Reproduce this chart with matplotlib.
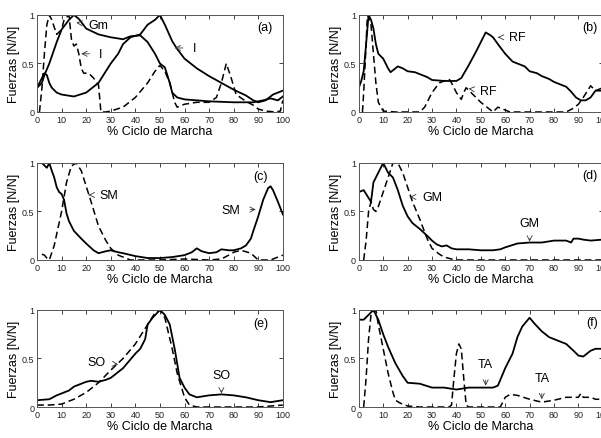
import matplotlib
matplotlib.use("Agg")
import matplotlib.pyplot as plt
from matplotlib import font_manager

names = {f.name for f in font_manager.fontManager.ttflist}
narrow = 'Liberation Sans Narrow' if 'Liberation Sans Narrow' in names else 'Liberation Sans'
plt.rcParams['font.family'] = ['Liberation Sans', 'DejaVu Sans']

# ---------------- data ----------------
xticks = [0, 10, 20, 30, 40, 50, 60, 70, 80, 90, 100]
yticks = [0, 0.5, 1]
ytick_labels = ['0', '0.5', '1']

# (a)
a_gm_x = [0, 2, 3, 5, 8, 10, 13, 15, 17, 20, 25, 30, 35, 38, 42, 45, 48, 50, 52, 54, 55, 57, 60, 70, 80, 88, 92, 95, 98, 100]
a_gm_y = [0.25, 0.3, 0.38, 0.5, 0.72, 0.85, 0.95, 1.0, 0.96, 0.86, 0.8, 0.77, 0.75, 0.78, 0.79, 0.72, 0.6, 0.5, 0.46, 0.3, 0.2, 0.15, 0.13, 0.11, 0.1, 0.1, 0.12, 0.14, 0.12, 0.16]
a_i_x = [0, 1, 3, 4, 5, 6, 8, 10, 15, 20, 25, 28, 30, 33, 35, 38, 42, 45, 48, 50, 52, 55, 57, 60, 65, 70, 75, 80, 85, 88, 90, 93, 96, 100]
a_i_y = [0.25, 0.3, 0.4, 0.38, 0.3, 0.25, 0.2, 0.18, 0.16, 0.2, 0.3, 0.42, 0.5, 0.6, 0.7, 0.77, 0.8, 0.9, 0.95, 1.0, 0.9, 0.73, 0.65, 0.55, 0.45, 0.37, 0.3, 0.23, 0.17, 0.12, 0.1, 0.12, 0.18, 0.22]
a_d_x = [1, 2, 3, 4, 5, 6, 8, 10, 11, 13, 14, 15, 16, 17, 18, 19, 21, 23, 25, 26, 28, 30, 35, 40, 45, 48, 50, 52, 54, 55, 56, 57, 58, 60, 65, 70, 73, 75, 77, 79, 81, 85, 88, 90, 93, 97, 99, 100]
a_d_y = [0.0, 0.25, 0.6, 0.9, 1.0, 0.95, 0.8, 0.85, 0.95, 1.0, 0.75, 0.68, 0.7, 0.6, 0.45, 0.4, 0.4, 0.35, 0.28, 0.0, 0.0, 0.01, 0.05, 0.15, 0.3, 0.42, 0.48, 0.42, 0.3, 0.2, 0.1, 0.05, 0.06, 0.08, 0.1, 0.1, 0.15, 0.3, 0.5, 0.35, 0.18, 0.11, 0.07, 0.03, 0.01, 0.0, 0.01, 0.12]

# (b)
b_s_x = [0, 1, 2, 3, 4, 5, 6, 7, 8, 10, 12, 13, 15, 16, 18, 20, 23, 25, 28, 30, 35, 38, 40, 42, 45, 48, 50, 52, 54, 55, 57, 60, 63, 65, 68, 70, 73, 75, 78, 80, 83, 85, 87, 89, 91, 93, 95, 97, 100]
b_s_y = [0.25, 0.32, 0.42, 0.7, 1.0, 0.95, 0.86, 0.7, 0.6, 0.55, 0.45, 0.41, 0.45, 0.47, 0.45, 0.42, 0.41, 0.39, 0.36, 0.33, 0.32, 0.32, 0.32, 0.35, 0.48, 0.62, 0.72, 0.82, 0.79, 0.77, 0.7, 0.6, 0.52, 0.5, 0.47, 0.42, 0.4, 0.37, 0.34, 0.31, 0.28, 0.26, 0.21, 0.15, 0.12, 0.12, 0.15, 0.22, 0.22]
b_d_x = [1.5, 2, 3, 3.5, 4, 5, 6, 7, 8, 10, 15, 20, 25, 27, 30, 33, 35, 37, 38, 40, 42, 43, 44, 46, 50, 55, 57, 60, 62, 70, 80, 85, 88, 90, 92, 95, 97, 100]
b_d_y = [0.0, 0.2, 0.7, 1.0, 0.98, 0.9, 0.6, 0.3, 0.1, 0.01, 0.0, 0.0, 0.0, 0.05, 0.2, 0.3, 0.32, 0.34, 0.3, 0.2, 0.13, 0.2, 0.25, 0.2, 0.1, 0.0, 0.05, 0.02, 0.0, 0.0, 0.0, 0.0, 0.04, 0.08, 0.15, 0.27, 0.22, 0.25]

# (c)
c_s_x = [0, 2, 4, 5, 6, 7, 8, 9, 10, 11, 12, 13, 15, 18, 20, 23, 25, 28, 30, 33, 35, 40, 45, 50, 55, 60, 63, 65, 67, 70, 73, 75, 78, 80, 83, 85, 87, 88, 90, 92, 94, 95, 96, 98, 100]
c_s_y = [1.0, 1.0, 0.95, 1.0, 0.92, 0.85, 0.75, 0.7, 0.68, 0.62, 0.48, 0.4, 0.3, 0.22, 0.17, 0.1, 0.07, 0.09, 0.1, 0.08, 0.07, 0.04, 0.02, 0.02, 0.03, 0.05, 0.08, 0.12, 0.09, 0.07, 0.08, 0.11, 0.1, 0.1, 0.12, 0.15, 0.22, 0.3, 0.45, 0.62, 0.74, 0.76, 0.72, 0.6, 0.47]
c_d_x = [2, 3, 4, 5, 7, 10, 12, 14, 16, 18, 20, 22, 25, 28, 30, 33, 35, 38, 40, 50, 60, 70, 75, 78, 80, 83, 87, 90, 95, 100]
c_d_y = [0.06, 0.05, 0.02, 0.0, 0.15, 0.5, 0.8, 0.97, 1.0, 0.92, 0.76, 0.6, 0.35, 0.2, 0.12, 0.05, 0.03, 0.0, 0.0, 0.0, 0.01, 0.0, 0.01, 0.05, 0.08, 0.1, 0.07, 0.0, 0.0, 0.05]

# (d)
d_s_x = [0, 2, 3, 5, 6, 8, 10, 12, 14, 16, 18, 20, 22, 25, 28, 30, 32, 34, 36, 38, 40, 45, 50, 55, 58, 60, 65, 70, 75, 80, 85, 87, 88, 90, 92, 95, 100]
d_s_y = [0.7, 0.72, 0.68, 0.6, 0.8, 0.9, 1.0, 0.9, 0.85, 0.72, 0.56, 0.45, 0.38, 0.32, 0.25, 0.2, 0.16, 0.14, 0.15, 0.12, 0.11, 0.11, 0.1, 0.1, 0.11, 0.13, 0.17, 0.18, 0.18, 0.2, 0.2, 0.18, 0.22, 0.22, 0.21, 0.2, 0.21]
d_d_x = [2, 3, 4, 5, 6, 7, 8, 10, 12, 14, 16, 18, 20, 22, 25, 28, 30, 33, 35, 38, 40, 50, 60, 70, 80, 90, 100]
d_d_y = [0.0, 0.2, 0.5, 0.6, 0.52, 0.5, 0.55, 0.7, 0.85, 1.0, 1.0, 0.9, 0.75, 0.6, 0.42, 0.22, 0.12, 0.06, 0.03, 0.01, 0.0, 0.0, 0.0, 0.0, 0.0, 0.0, 0.0]

# (e)
e_s_x = [0, 5, 8, 10, 13, 15, 18, 20, 22, 25, 28, 30, 35, 40, 42, 44, 45, 47, 50, 52, 54, 56, 58, 60, 62, 65, 70, 75, 80, 85, 90, 95, 100]
e_s_y = [0.07, 0.08, 0.12, 0.14, 0.17, 0.21, 0.24, 0.26, 0.27, 0.26, 0.28, 0.3, 0.4, 0.55, 0.6, 0.7, 0.85, 0.92, 1.0, 0.95, 0.85, 0.6, 0.3, 0.2, 0.13, 0.1, 0.12, 0.13, 0.12, 0.1, 0.07, 0.05, 0.07]
e_d_x = [0, 5, 10, 15, 20, 25, 30, 35, 40, 45, 48, 50, 52, 55, 57, 60, 62, 65, 70, 80, 90, 100]
e_d_y = [0.02, 0.02, 0.03, 0.08, 0.15, 0.25, 0.38, 0.5, 0.65, 0.85, 0.97, 1.0, 0.92, 0.6, 0.35, 0.1, 0.02, 0.0, 0.0, 0.0, 0.0, 0.02]

# (f)
f_s_x = [0, 2, 4, 6, 8, 10, 12, 15, 18, 20, 25, 30, 35, 40, 45, 50, 55, 57, 60, 63, 65, 67, 70, 72, 75, 78, 80, 85, 88, 90, 92, 95, 97, 100]
f_s_y = [0.9, 0.9, 0.95, 1.0, 0.9, 0.75, 0.62, 0.45, 0.32, 0.25, 0.24, 0.2, 0.2, 0.18, 0.2, 0.2, 0.2, 0.22, 0.4, 0.55, 0.72, 0.83, 0.92, 0.86, 0.78, 0.72, 0.7, 0.65, 0.58, 0.53, 0.52, 0.58, 0.6, 0.6]
f_d_x = [2, 3, 4, 5, 7, 8, 10, 12, 14, 15, 17, 20, 25, 30, 37, 38, 39, 40, 41, 42, 43, 44, 45, 50, 58, 60, 62, 65, 70, 75, 80, 85, 90, 91, 92, 95, 97, 100]
f_d_y = [0.0, 0.3, 0.7, 0.95, 1.0, 0.85, 0.6, 0.35, 0.15, 0.07, 0.04, 0.01, 0.0, 0.0, 0.0, 0.02, 0.3, 0.55, 0.65, 0.6, 0.3, 0.02, 0.0, 0.0, 0.0, 0.1, 0.13, 0.12, 0.08, 0.05, 0.07, 0.1, 0.1, 0.14, 0.1, 0.1, 0.08, 0.08]

panels = [
    ('(a)', [(a_gm_x, a_gm_y), (a_i_x, a_i_y)], [(a_d_x, a_d_y)]),
    ('(b)', [(b_s_x, b_s_y)], [(b_d_x, b_d_y)]),
    ('(c)', [(c_s_x, c_s_y)], [(c_d_x, c_d_y)]),
    ('(d)', [(d_s_x, d_s_y)], [(d_d_x, d_d_y)]),
    ('(e)', [(e_s_x, e_s_y)], [(e_d_x, e_d_y)]),
    ('(f)', [(f_s_x, f_s_y)], [(f_d_x, f_d_y)]),
]

# annotations: (text, arrow tip (x,y), text position (x,y))
notes = {
    '(a)': [('Gm', (16, 0.92), (25, 0.9)), ('I', (18, 0.6), (26, 0.6)), ('I', (56, 0.66), (64, 0.66))],
    '(b)': [('RF', (57, 0.77), (65, 0.77)), ('RF', (45, 0.24), (53, 0.22))],
    '(c)': [('SM', (21, 0.67), (29, 0.67)), ('SM', (89, 0.52), (79, 0.52))],
    '(d)': [('GM', (21, 0.65), (30, 0.65)), ('GM', (70, 0.19), (70, 0.38))],
    '(e)': [('SO', (33, 0.44), (24, 0.46)), ('SO', (75, 0.14), (75, 0.33))],
    '(f)': [('TA', (52, 0.22), (52, 0.44)), ('TA', (75, 0.08), (75, 0.3))],
}
tag_pos = {'(a)': (96, 0.88), '(b)': (98, 0.88), '(c)': (94, 0.87), '(d)': (98, 0.88), '(e)': (94, 0.87), '(f)': (98, 0.88)}

fig = plt.figure(figsize=(6.01, 4.39), dpi=100)
lefts = [0.0616, 0.597]
bottoms = [0.7426, 0.4055, 0.0706]
W = [0.409, 0.406]
H = 0.221

for i, (tag, solids, dashes) in enumerate(panels):
    r, c = divmod(i, 2)
    ax = fig.add_axes([lefts[c], bottoms[r], W[c], H])
    for x, y in solids:
        ax.plot(x, y, color='black', lw=1.3)
    for x, y in dashes:
        ax.plot(x, y, color='black', lw=1.1, dashes=(4.5, 2.5))
    ax.set_xlim(0, 100)
    ax.set_ylim(0, 1)
    ax.set_xticks(xticks)
    ax.set_yticks(yticks)
    ax.set_yticklabels(ytick_labels)
    ax.tick_params(direction='in', length=3, width=0.6, top=True, right=True,
                   labelsize=6.5, pad=2, colors='#222222')
    for lab in ax.get_xticklabels() + ax.get_yticklabels():
        lab.set_fontfamily(narrow)
    for s in ax.spines.values():
        s.set_linewidth(0.7)
        s.set_color('#555555')
    ax.set_xlabel('% Ciclo de Marcha', fontsize=9, labelpad=1)
    ax.set_ylabel('Fuerzas [N/N]', fontsize=9, labelpad=1)
    ax.text(*tag_pos[tag], tag, fontsize=9, family=narrow, ha='right', va='center', clip_on=False)
    for txt, tip, tpos in notes[tag]:
        ax.annotate(txt, xy=tip, xytext=tpos, fontsize=9, family=narrow,
                    ha='center', va='center',
                    arrowprops=dict(arrowstyle='->', lw=0.6, color='#333333',
                                    shrinkA=5, shrinkB=0))

fig.savefig('out.png', dpi=100)
